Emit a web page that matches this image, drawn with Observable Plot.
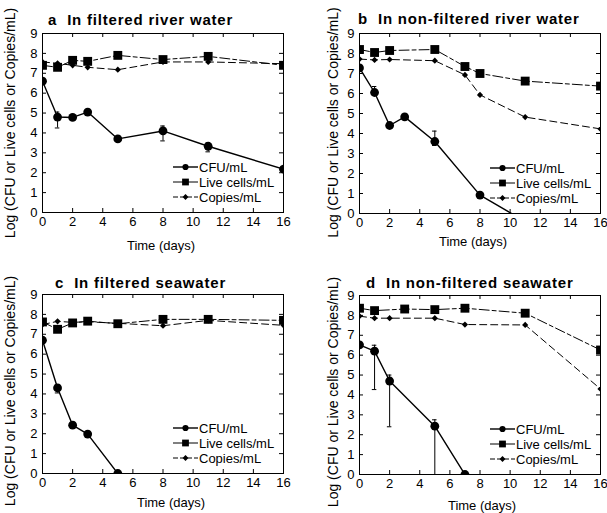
<!DOCTYPE html>
<html><head><meta charset="utf-8">
<script src="https://cdn.jsdelivr.net/npm/d3@7"></script>
<script src="https://cdn.jsdelivr.net/npm/@observablehq/plot@0.6"></script>
<style>
body{margin:0;background:#fff;}
#wrap{position:relative;width:607px;height:513px;overflow:hidden;background:#fff;font-family:"Liberation Sans",Arial,Helvetica,sans-serif;}
.panel{position:absolute;}
.title{position:absolute;font-weight:bold;font-size:15px;letter-spacing:0.8px;white-space:nowrap;line-height:15px;color:#000;}
.title .sub{margin-left:10px;}
</style></head><body><div id="wrap"></div>
<script>
// ---------- data ----------
const seriesNames = ["CFU/mL", "Live cells/mL", "Copies/mL"];
const xTicks = [0, 2, 4, 6, 8, 10, 12, 14, 16];
const yTicks = [0, 1, 2, 3, 4, 5, 6, 7, 8, 9];
const xLabel = "Time (days)";
const yLabel = "Log (CFU or Live cells or Copies/mL)";
const panelLetters = ["a", "b", "c", "d"];
const panelTitles = ["In filtered river water", "In non-filtered river water", "In filtered seawater", "In non-filtered seawater"];

// a: filtered river water
const cfuDaysA = [0, 1, 2, 3, 5, 8, 11, 16];
const cfuA = [6.6, 4.8, 4.78, 5.05, 3.7, 4.1, 3.33, 2.18];
const cfuLoA = [null, 4.25, null, null, null, 3.6, 3.05, null];
const cfuHiA = [null, 5.05, null, null, null, 4.35, 3.5, null];
const liveDaysA = [0, 1, 2, 3, 5, 8, 11, 16];
const liveA = [7.4, 7.3, 7.65, 7.6, 7.9, 7.69, 7.85, 7.4];
const copiesDaysA = [0, 1, 2, 3, 5, 8, 11, 16];
const copiesA = [7.57, 7.5, 7.4, 7.3, 7.18, 7.57, 7.57, 7.48];

// b: non-filtered river water
const cfuDaysB = [0, 1, 2, 3, 5, 8, 11];
const cfuB = [7.28, 6.05, 4.4, 4.83, 3.6, 0.92, -0.4];
const cfuLoB = [null, 5.95, null, null, 3.4, null, null];
const cfuHiB = [null, 6.35, null, null, 4.12, null, null];
const liveDaysB = [0, 1, 2, 5, 7, 8, 11, 16];
const liveB = [8.2, 8.05, 8.15, 8.2, 7.35, 7.0, 6.62, 6.37];
const copiesDaysB = [0, 1, 2, 5, 7, 8, 11, 16];
const copiesB = [7.72, 7.68, 7.7, 7.64, 6.93, 5.93, 4.82, 4.23];

// c: filtered seawater
const cfuDaysC = [0, 1, 2, 3, 5];
const cfuC = [6.7, 4.3, 2.43, 1.98, 0];
const cfuLoC = [null, 4.05, null, null, null];
const cfuHiC = [null, 4.45, null, null, null];
const liveDaysC = [0, 1, 2, 3, 5, 8, 11, 16];
const liveC = [7.62, 7.25, 7.57, 7.66, 7.53, 7.75, 7.75, 7.7];
const copiesDaysC = [0, 1, 2, 3, 5, 8, 11, 16];
const copiesC = [7.49, 7.65, 7.6, 7.63, 7.55, 7.43, 7.7, 7.45];

// d: non-filtered seawater
const cfuDaysD = [0, 1, 2, 5, 7];
const cfuD = [6.52, 6.2, 4.7, 2.43, 0];
const cfuLoD = [null, 4.27, 2.4, 0, null];
const cfuHiD = [null, 6.5, 5.0, 2.75, null];
const liveDaysD = [0, 1, 3, 5, 7, 11, 16];
const liveD = [8.36, 8.24, 8.32, 8.29, 8.36, 8.11, 6.26];
const copiesDaysD = [0, 1, 2, 5, 7, 11, 16];
const copiesD = [7.96, 7.86, 7.86, 7.86, 7.54, 7.52, 4.3];

// ---------- layout / style ----------
const FONT = "Liberation Sans, Arial, Helvetica, sans-serif";
const styles = {
  cfu: {symbol: "circle", r: 4.4, dash: null, width: 1.4, legArea: 30},
  live: {symbol: "square", r: 5, dash: "10,3,4,3", width: 1, legArea: 46},
  copies: {symbol: "diamond2", r: 2.8, dash: "7,4", width: 1, legArea: 22}
};
const layouts = [
  {left: 0, top: 0, w: 303, h: 255, mL: 42, mR: 20, mT: 33, mB: 43, yDx: -32, yDy: 0, xDx: -2, xDy: 33, tL: 48, tT: 12},
  {left: 303, top: 0, w: 304, h: 255, mL: 56, mR: 7, mT: 33, mB: 42, yDx: -26, yDy: -1, xDx: -7, xDy: 28, tL: 358, tT: 11},
  {left: 0, top: 255, w: 303, h: 258, mL: 42, mR: 20, mT: 39, mB: 40, yDx: -32, yDy: 7, xDx: 8, xDy: 29, tL: 55, tT: 275},
  {left: 303, top: 255, w: 304, h: 258, mL: 56, mR: 7, mT: 40, mB: 39, yDx: -26, yDy: 7, xDx: 2, xDy: 31, tL: 366, tT: 275}
];

function rows(days, vals, lo, hi) {
  return days.map((t, i) => ({t, v: vals[i], lo: lo ? lo[i] : null, hi: hi ? hi[i] : null}));
}

const panelsData = [
  {cfu: rows(cfuDaysA, cfuA, cfuLoA, cfuHiA), live: rows(liveDaysA, liveA), copies: rows(copiesDaysA, copiesA)},
  {cfu: rows(cfuDaysB, cfuB, cfuLoB, cfuHiB), live: rows(liveDaysB, liveB), copies: rows(copiesDaysB, copiesB)},
  {cfu: rows(cfuDaysC, cfuC, cfuLoC, cfuHiC), live: rows(liveDaysC, liveC), copies: rows(copiesDaysC, copiesC)},
  {cfu: rows(cfuDaysD, cfuD, cfuLoD, cfuHiD), live: rows(liveDaysD, liveD), copies: rows(copiesDaysD, copiesD)}
];

function legendMark() {
  return (index, scales, values, dims) => {
    const right = dims.width - dims.marginRight;
    const bottom = dims.height - dims.marginBottom;
    const g = d3.create("svg:g").attr("font-family", FONT).attr("font-size", 13).attr("text-anchor", "start");
    const keys = ["cfu", "live", "copies"];
    keys.forEach((k, i) => {
      const s = styles[k];
      const y = bottom - 45 + i * 15;
      const x0 = right - 110, x1 = right - 85;
      const ln = g.append("line").attr("x1", x0).attr("x2", x1).attr("y1", y).attr("y2", y)
        .attr("stroke", "black").attr("stroke-width", s.width);
      if (k === "copies") ln.attr("stroke-dasharray", "5,2");
      const sym = {circle: d3.symbolCircle, square: d3.symbolSquare, diamond2: d3.symbolDiamond2}[s.symbol];
      g.append("path").attr("d", d3.symbol(sym, s.legArea)()).attr("transform", `translate(${(x0 + x1) / 2},${y})`).attr("fill", "black");
      g.append("text").attr("x", right - 84).attr("y", y).attr("dy", "0.35em").attr("fill", "black").text(seriesNames[i]);
    });
    return g.node();
  };
}

function makePanel(i) {
  const L = layouts[i], D = panelsData[i];
  const plotW = L.w - L.mL - L.mR, plotH = L.h - L.mT - L.mB;
  const errs = D.cfu.filter(d => d.lo != null);
  const svg = Plot.plot({
    width: L.w, height: L.h,
    marginLeft: L.mL, marginRight: L.mR, marginTop: L.mT, marginBottom: L.mB,
    style: {fontFamily: FONT, fontSize: "13px", color: "black", background: "transparent", overflow: "visible"},
    x: {domain: [0, 16]},
    y: {domain: [0, 9]},
    marks: [
      Plot.ruleX(errs, {x: "t", y1: "lo", y2: "hi", stroke: "black", strokeWidth: 1, clip: true}),
      Plot.ruleY(errs, {x1: d => d.t - 0.15, x2: d => d.t + 0.15, y: "hi", stroke: "black", strokeWidth: 1, clip: true}),
      Plot.ruleY(errs.filter(d => d.lo > 0), {x1: d => d.t - 0.15, x2: d => d.t + 0.15, y: "lo", stroke: "black", strokeWidth: 1, clip: true}),
      Plot.line(D.copies, {x: "t", y: "v", stroke: "black", strokeWidth: styles.copies.width, strokeDasharray: styles.copies.dash, clip: true}),
      Plot.line(D.live, {x: "t", y: "v", stroke: "black", strokeWidth: styles.live.width, strokeDasharray: styles.live.dash, clip: true}),
      Plot.line(D.cfu, {x: "t", y: "v", stroke: "black", strokeWidth: styles.cfu.width, clip: true}),
      Plot.dot(D.copies, {x: "t", y: "v", symbol: styles.copies.symbol, r: styles.copies.r, fill: "black", clip: true}),
      Plot.dot(D.live, {x: "t", y: "v", symbol: styles.live.symbol, r: styles.live.r, fill: "black", clip: true}),
      Plot.dot(D.cfu, {x: "t", y: "v", symbol: styles.cfu.symbol, r: styles.cfu.r, fill: "black", clip: true}),
      Plot.frame({stroke: "black", strokeWidth: 1}),
      Plot.tickX(xTicks, {x: d => d, insetTop: plotH - 4, stroke: "black"}),
      Plot.tickX(xTicks, {x: d => d, insetBottom: plotH - 4, stroke: "black"}),
      Plot.tickY(yTicks, {y: d => d, insetRight: plotW - 4, stroke: "black"}),
      Plot.tickY(yTicks, {y: d => d, insetLeft: plotW - 4, stroke: "black"}),
      Plot.axisX({ticks: xTicks, tickSize: 0, tickPadding: 4, label: null, fontSize: 13}),
      Plot.axisY({ticks: yTicks, tickSize: 0, tickPadding: 5, label: null, fontSize: 13}),
      Plot.text([yLabel], {frameAnchor: "left", textAnchor: "middle", lineAnchor: "middle", rotate: -90, dx: L.yDx, dy: L.yDy, text: d => d, fontSize: 14, fill: "black"}),
      Plot.text([xLabel], {frameAnchor: "bottom", textAnchor: "middle", lineAnchor: "middle", dx: L.xDx, dy: L.xDy, text: d => d, fontSize: 13, fill: "black"}),
      legendMark()
    ]
  });
  svg.classList.add("panel");
  svg.style.left = L.left + "px";
  svg.style.top = L.top + "px";
  return svg;
}

const wrap = document.getElementById("wrap");
for (let i = 0; i < 4; i++) {
  wrap.appendChild(makePanel(i));
}
for (let i = 0; i < 4; i++) {
  const L = layouts[i];
  const t = document.createElement("div");
  t.className = "title";
  t.style.left = L.tL + "px";
  t.style.top = L.tT + "px";
  const a = document.createElement("span");
  a.textContent = panelLetters[i];
  const b = document.createElement("span");
  b.className = "sub";
  b.textContent = panelTitles[i];
  t.appendChild(a); t.appendChild(b);
  wrap.appendChild(t);
}
</script>
</body></html>
